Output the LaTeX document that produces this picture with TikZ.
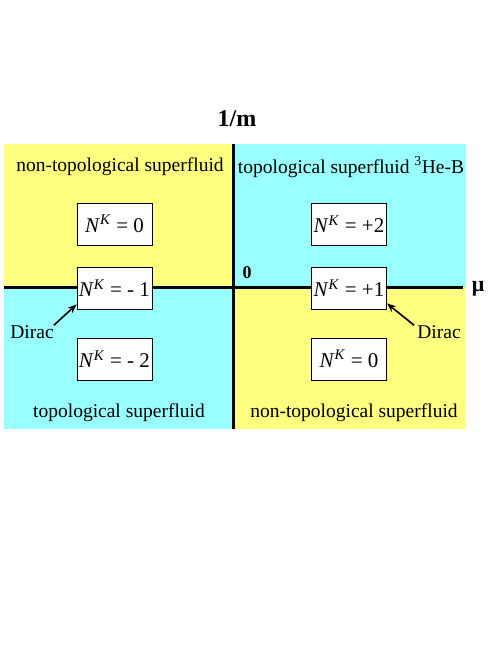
\documentclass[tikz,border=0pt]{standalone}
\usepackage{fontspec}
\setmainfont{Liberation Serif}
\usetikzlibrary{arrows.meta}
\definecolor{paleyellow}{HTML}{FFFF80}
\definecolor{palecyan}{HTML}{99FFFF}

\begin{document}
\begin{tikzpicture}[x=1pt, y=-1pt,
    phaseBox/.style={rectangle, draw=black, fill=white, line width=0.8pt, minimum width=75pt, minimum height=42pt, inner sep=0pt, font=\fontsize{21}{24}\selectfont},
    regionLabel/.style={font=\fontsize{19.5}{22}\selectfont, inner sep=0pt},
    axisLabel/.style={font=\fontsize{20}{22}\selectfont\bfseries, inner sep=0pt},
    axisLine/.style={line width=3pt, draw=black},
    diracArrow/.style={-{Stealth[length=9pt,width=7pt]}, line width=1.6pt}
]
    \useasboundingbox (0,0) rectangle (498,645);

    % Quadrants
    \fill[paleyellow] (4,144) rectangle (233,287);
    \fill[palecyan] (233,144) rectangle (466,287);
    \fill[palecyan] (4,287) rectangle (233,429);
    \fill[paleyellow] (233,287) rectangle (466,429);

    % Axes
    \coordinate (yTop) at (233,144);
    \coordinate (yBot) at (233,429);
    \coordinate (xLeft) at (4,287);
    \coordinate (xRight) at (463,287);
    \draw[axisLine] (yTop) -- (yBot);
    \draw[axisLine] (xLeft) -- (xRight);

    \node[axisLabel, font=\fontsize{24}{26}\selectfont\bfseries] (invMass) at (237,119) {1/m};
    \node[axisLabel, font=\fontsize{22}{24}\selectfont\bfseries] (muLabel) at (478,289) {μ};
    \node[axisLabel, font=\fontsize{18}{20}\selectfont\bfseries] (origin) at (247,273) {0};

    % Region labels
    \node[regionLabel] (tlText) at (120,167) {non-topological superfluid};
    \node[regionLabel] (trText) at (351,167) {topological superfluid \textsuperscript{3}He-B};
    \node[regionLabel] (blText) at (119,413) {topological superfluid};
    \node[regionLabel] (brText) at (354,413) {non-topological superfluid};

    % Invariant boxes
    \node[phaseBox] (nZeroTop) at (114.5,224) {\textit{N}\textsuperscript{\textit{K}} = 0};
    \node[phaseBox] (nPlusTwo) at (349,224) {\textit{N}\textsuperscript{\textit{K}} = +2};
    \node[phaseBox] (nMinusOne) at (114.5,288) {\textit{N}\textsuperscript{\textit{K}} = - 1};
    \node[phaseBox] (nPlusOne) at (349,288) {\textit{N}\textsuperscript{\textit{K}} = +1};
    \node[phaseBox] (nMinusTwo) at (114.5,359) {\textit{N}\textsuperscript{\textit{K}} = - 2};
    \node[phaseBox] (nZeroBot) at (349,359) {\textit{N}\textsuperscript{\textit{K}} = 0};

    % Dirac points
    \node[regionLabel] (diracLeft) at (32,332) {Dirac};
    \node[regionLabel] (diracRight) at (439,332) {Dirac};
    \draw[diracArrow] (diracLeft.north east) -- ([yshift=5pt]nMinusOne.south west);
    \draw[diracArrow] ([xshift=-3pt]diracRight.north west) -- ([yshift=6pt]nPlusOne.south east);
\end{tikzpicture}
\end{document}
